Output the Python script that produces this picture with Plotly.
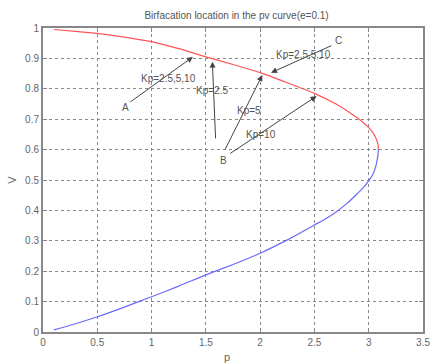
import plotly.graph_objects as go

# Upper (stable) branch of the P-V nose curve
p_upper = [0.1, 0.3, 0.5, 0.75, 1.0, 1.25, 1.5, 1.75, 2.0, 2.25, 2.5, 2.7, 2.8, 2.9,
           2.96, 3.0, 3.04, 3.07, 3.085, 3.09]
v_upper = [0.995, 0.989, 0.982, 0.97, 0.955, 0.932, 0.905, 0.88, 0.853, 0.82, 0.785, 0.75,
           0.728, 0.703, 0.686, 0.672, 0.655, 0.635, 0.618, 0.6]

# Lower (unstable) branch
p_lower = [3.09, 3.08, 3.065, 3.04, 3.0, 2.95, 2.88, 2.8, 2.7, 2.6, 2.5, 2.25, 2.0, 1.75,
           1.5, 1.25, 1.0, 0.75, 0.5, 0.3, 0.1]
v_lower = [0.6, 0.57, 0.545, 0.52, 0.497, 0.475, 0.45, 0.423, 0.395, 0.372, 0.352, 0.303,
           0.259, 0.222, 0.188, 0.151, 0.116, 0.082, 0.05, 0.027, 0.007]

x_ticks = [0, 0.5, 1, 1.5, 2, 2.5, 3, 3.5]
y_ticks = [0, 0.1, 0.2, 0.3, 0.4, 0.5, 0.6, 0.7, 0.8, 0.9, 1]

# Bifurcation-point arrows: (tail_p, tail_v, head_p, head_v)
arrows = [
    (0.79, 0.753, 1.38, 0.905),   # from A
    (1.59, 0.632, 1.56, 0.889),   # from B, Kp=2.5
    (1.67, 0.595, 2.02, 0.845),   # from B, Kp=5
    (1.71, 0.584, 2.52, 0.776),   # from B, Kp=10
    (2.67, 0.944, 2.10, 0.853),   # from C
]

# Text labels: (p, v, text)
labels = [
    (0.76, 0.738, "A"),
    (1.66, 0.565, "B"),
    (2.72, 0.958, "C"),
    (1.16, 0.834, "Kp=2.5,5,10"),
    (1.56, 0.796, "Kp=2.5"),
    (1.90, 0.730, "Kp=5"),
    (2.01, 0.651, "Kp=10"),
    (2.40, 0.914, "Kp=2.5,5,10"),
]

fig = go.Figure()
fig.add_trace(go.Scatter(x=p_upper, y=v_upper, mode="lines", line_shape="spline",
                         line=dict(color="#ff5555", width=1.2, smoothing=0.6), showlegend=False))
fig.add_trace(go.Scatter(x=p_lower, y=v_lower, mode="lines", line_shape="spline",
                         line=dict(color="#6a6aff", width=1.2, smoothing=0.6), showlegend=False))

for tp, tv, hp, hv in arrows:
    fig.add_annotation(x=hp, y=hv, ax=tp, ay=tv, xref="x", yref="y", axref="x", ayref="y",
                       text="", showarrow=True, arrowhead=2, arrowsize=1.2,
                       arrowwidth=1, arrowcolor="#444444")

for lp, lv, txt in labels:
    fig.add_annotation(x=lp, y=lv, text=txt, showarrow=False,
                       font=dict(family="Liberation Sans", size=10, color="#555555"))

# x-axis title placed just below the tick labels
fig.add_annotation(x=0.485, y=-0.082, xref="paper", yref="paper", text="p", showarrow=False,
                   yanchor="middle", font=dict(family="Liberation Sans", size=11, color="#666666"))

axis_style = dict(
    showgrid=True, gridcolor="#888888", griddash="dot", gridwidth=1,
    showline=True, linecolor="#888888", linewidth=2, mirror="allticks",
    ticks="inside", ticklen=4, tickcolor="#888888", zeroline=False,
    tickfont=dict(family="Liberation Sans", size=10, color="#666666"),
)

fig.update_xaxes(range=[0, 3.5], tickvals=x_ticks, ticktext=[f"{t:g}" for t in x_ticks],
                 **axis_style)
fig.update_yaxes(range=[0, 1], tickvals=y_ticks, ticktext=[f"{t:g}" for t in y_ticks],
                 title=dict(text="V", font=dict(family="Liberation Sans", size=11, color="#666666"),
                            standoff=6),
                 **axis_style)

fig.update_layout(
    width=438, height=363,
    margin=dict(l=43, r=8, t=28, b=31),
    paper_bgcolor="white", plot_bgcolor="white",
    title=dict(text="Birfacation location in the pv curve(e=0.1)", x=0.54, xanchor="center",
               y=0.958, yanchor="middle",
               font=dict(family="Liberation Sans", size=10, color="#555555")),
)

fig.write_html("out.html")
